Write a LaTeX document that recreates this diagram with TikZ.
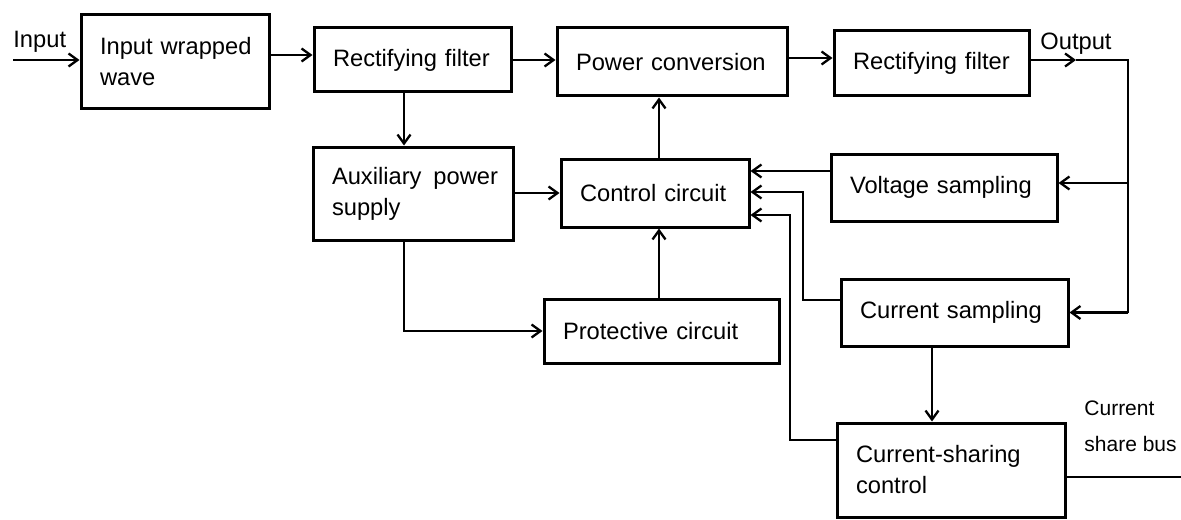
\documentclass[tikz,border=0pt]{standalone}
\usepackage{fontspec}
\setmainfont{Liberation Sans}
\usetikzlibrary{arrows.meta}
\begin{document}
\begin{tikzpicture}[x=0.5pt,y=-0.5pt,
  box/.style={draw, line width=1.5pt, align=left, inner xsep=9.5pt, inner ysep=0pt,
    font=\fontsize{11.85}{15.5}\selectfont},
  conn/.style={line width=1.15pt, -{Straight Barb[length=4.5pt,width=6.5pt]}},
  wire/.style={line width=1.15pt},
  lbl/.style={inner sep=0pt, anchor=base west, font=\fontsize{11.85}{15.5}\selectfont},
  small/.style={inner sep=0pt, anchor=base west, font=\fontsize{10.5}{12}\selectfont}]
\useasboundingbox (0,0) rectangle (1181,519);

% boxes
\node[box, minimum width=94pt,   minimum height=46.5pt, text width=75pt]   (inw)  at (175,61.5)  {Input~wrapped\\wave};
\node[box, minimum width=98.5pt, minimum height=32pt,   text width=79.5pt] (rf1)  at (412.5,60)  {Rectifying~filter};
\node[box, minimum width=115pt,  minimum height=34pt,   text width=96pt]   (pc)   at (672,62)    {Power~conversion};
\node[box, minimum width=97.5pt, minimum height=32.5pt, text width=78.5pt] (rf2)  at (931.5,63.5){Rectifying~filter};
\node[box, minimum width=100pt,  minimum height=46.5pt, text width=81pt]   (aux)  at (413,193.5) {\mbox{Auxiliary\hspace{2pt} power}\\supply};
\node[box, minimum width=94pt,   minimum height=34pt,   text width=75pt]   (ctl)  at (655,193)   {Control~circuit};
\node[box, minimum width=113pt,  minimum height=33.5pt, text width=94pt]   (vs)   at (944,187.5) {Voltage~sampling};
\node[box, minimum width=117.5pt,minimum height=32pt,   text width=98.5pt] (prot) at (661.5,331) {Protective~circuit};
\node[box, minimum width=113.5pt,minimum height=33.5pt, text width=94.5pt] (cs)   at (954.5,312.5){Current~sampling};
\node[box, minimum width=114pt,  minimum height=47pt,   text width=95pt]   (csc)  at (951,470)   {Current-sharing\\control};

% labels
\node[lbl] (inlbl) at (13,48) {Input};
\node[lbl] (outlbl) at (1040,50) {Output};
\node[small] (bus1) at (1084,415) {Current};
\node[small] (bus2) at (1084,451) {share~bus};

% helper coordinates
\coordinate (instart) at (13,60);
\coordinate (y55) at (0,55);
\coordinate (y58) at (0,58);
\coordinate (outtip) at (1076,60);
\coordinate (outcorner) at (1128,60);
\coordinate (y183) at (0,183);
\coordinate (x404) at (404,0);
\coordinate (x659) at (659,0);
\coordinate (y171) at (0,171);
\coordinate (csbend) at (803,300);
\coordinate (csin) at (803,192);
\coordinate (cscbend) at (790,440);
\coordinate (cscin) at (790,215);
\coordinate (x932) at (932,0);
\coordinate (busend) at (1181,477);

% connectors
\draw[conn] (instart) -- (instart -| inw.west);
\draw[conn] (inw.east |- y55) -- (rf1.west |- y55);
\draw[conn] (rf1.east) -- (rf1.east -| pc.west);
\draw[conn] (pc.east |- y58) -- (rf2.west |- y58);
\draw[conn] (rf2.east |- outtip) -- (outtip);
\draw[wire] (outtip) -- (outcorner) -- (outcorner |- cs.east);
\draw[conn] (outcorner |- y183) -- (vs.east |- y183);
\draw[conn] (outcorner |- cs.east) -- (cs.east);
\draw[conn] (rf1.south -| x404) -- (aux.north -| x404);
\draw[conn] (aux.east |- ctl.west) -- (ctl.west);
\draw[conn] (aux.south -| x404) |- (prot.west);
\draw[conn] (ctl.north -| x659) -- (pc.south -| x659);
\draw[conn] (prot.north -| x659) -- (ctl.south -| x659);
\draw[conn] (vs.west |- y171) -- (ctl.east |- y171);
\draw[conn] (cs.west |- csbend) -- (csbend) -- (csin) -- (ctl.east |- csin);
\draw[conn] (csc.west |- cscbend) -- (cscbend) -- (cscin) -- (ctl.east |- cscin);
\draw[conn] (cs.south -| x932) -- (csc.north -| x932);
\draw[wire] (csc.east |- busend) -- (busend);
\end{tikzpicture}
\end{document}
